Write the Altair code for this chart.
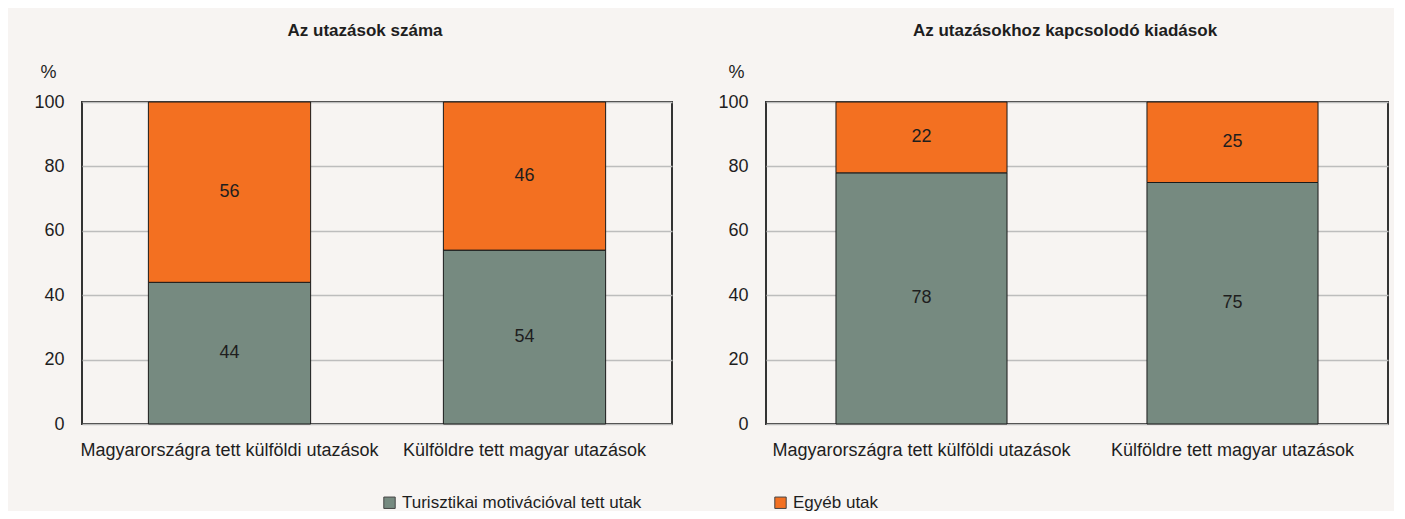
import altair as alt
import pandas as pd

categories = ["Magyarországra tett külföldi utazások", "Külföldre tett magyar utazások"]
series = ["Turisztikai motivációval tett utak", "Egyéb utak"]
trips_tourist = [44, 54]
trips_other = [56, 46]
spend_tourist = [78, 75]
spend_other = [22, 25]
titles = ["Az utazások száma", "Az utazásokhoz kapcsolodó kiadások"]
y_ticks = [0, 20, 40, 60, 80, 100]

GREEN = "#768a80"
ORANGE = "#f37021"
BG = "#f7f4f2"
FONT = "Liberation Sans, Arial, sans-serif"
TXT = "#1e1e1e"


def make_df(tourist, other):
    rows = []
    for i, c in enumerate(categories):
        rows.append({"cat": c, "series": series[0], "value": tourist[i], "ord": 0})
        rows.append({"cat": c, "series": series[1], "value": other[i], "ord": 1})
    return pd.DataFrame(rows)


def panel(df, title, width, title_x, title_y):
    base = alt.Chart(df)
    x = alt.X(
        "cat:N",
        sort=categories,
        title=None,
        scale=alt.Scale(paddingInner=0.45, paddingOuter=0.225),
        axis=alt.Axis(labelAngle=0, ticks=False, domain=False, labelFontSize=18,
                      labelPadding=17, labelLimit=400, labelColor=TXT, labelFont=FONT,
                      grid=False),
    )
    bars = base.mark_bar(stroke="#1a1a1a", strokeWidth=1).encode(
        x=x,
        y=alt.Y(
            "value:Q",
            stack="zero",
            scale=alt.Scale(domain=[0, 100], nice=False),
            axis=alt.Axis(values=y_ticks, title="%", titleAngle=0, titleX=title_x, titleY=title_y,
                          titleAlign="left", titleBaseline="middle", titleFontSize=18,
                          titleFontWeight="normal", titleFont=FONT, titleColor=TXT,
                          labelFontSize=18, labelFont=FONT, labelColor=TXT, labelPadding=18,
                          ticks=False, domain=False, grid=True, gridColor="#bdbdbd",
                          gridWidth=1.5),
        ),
        color=alt.Color(
            "series:N",
            scale=alt.Scale(domain=series, range=[GREEN, ORANGE]),
            legend=alt.Legend(orient="none", legendX=299, legendY=392, direction="horizontal",
                              title=None, symbolType="square", symbolSize=130,
                              symbolStrokeColor="#444", symbolStrokeWidth=1,
                              labelFontSize=17, labelFont=FONT, labelColor=TXT,
                              columnPadding=130, labelLimit=400, symbolOpacity=1),
        ),
        order=alt.Order("ord:Q"),
    )
    labels = base.transform_stack(
        stack="value", groupby=["cat"], as_=["y0", "y1"], sort=[alt.SortField("ord")]
    ).transform_calculate(mid="(datum.y0 + datum.y1) / 2").mark_text(
        fontSize=18, font=FONT, color=TXT
    ).encode(
        x=alt.X("cat:N", sort=categories),
        y=alt.Y("mid:Q"),
        text=alt.Text("value:Q"),
    )
    return alt.layer(bars, labels).properties(
        width=width, height=322,
        title=alt.TitleParams(title, fontSize=17, fontWeight="bold", font=FONT,
                              color=TXT, offset=23, dx=-12),
    )


left = panel(make_df(trips_tourist, trips_other), titles[0], 590, -42, -30)
right = panel(make_df(spend_tourist, spend_other), titles[1], 622, -38, -30)

chart = alt.hconcat(left, right, spacing=43).properties(
    background=BG,
    padding={"left": 24, "top": 13, "right": 5, "bottom": 0},
).configure_view(stroke="#333", strokeWidth=2).configure_concat(spacing=43)

chart.save("out.html", embed_options={"renderer": "svg", "actions": False})
